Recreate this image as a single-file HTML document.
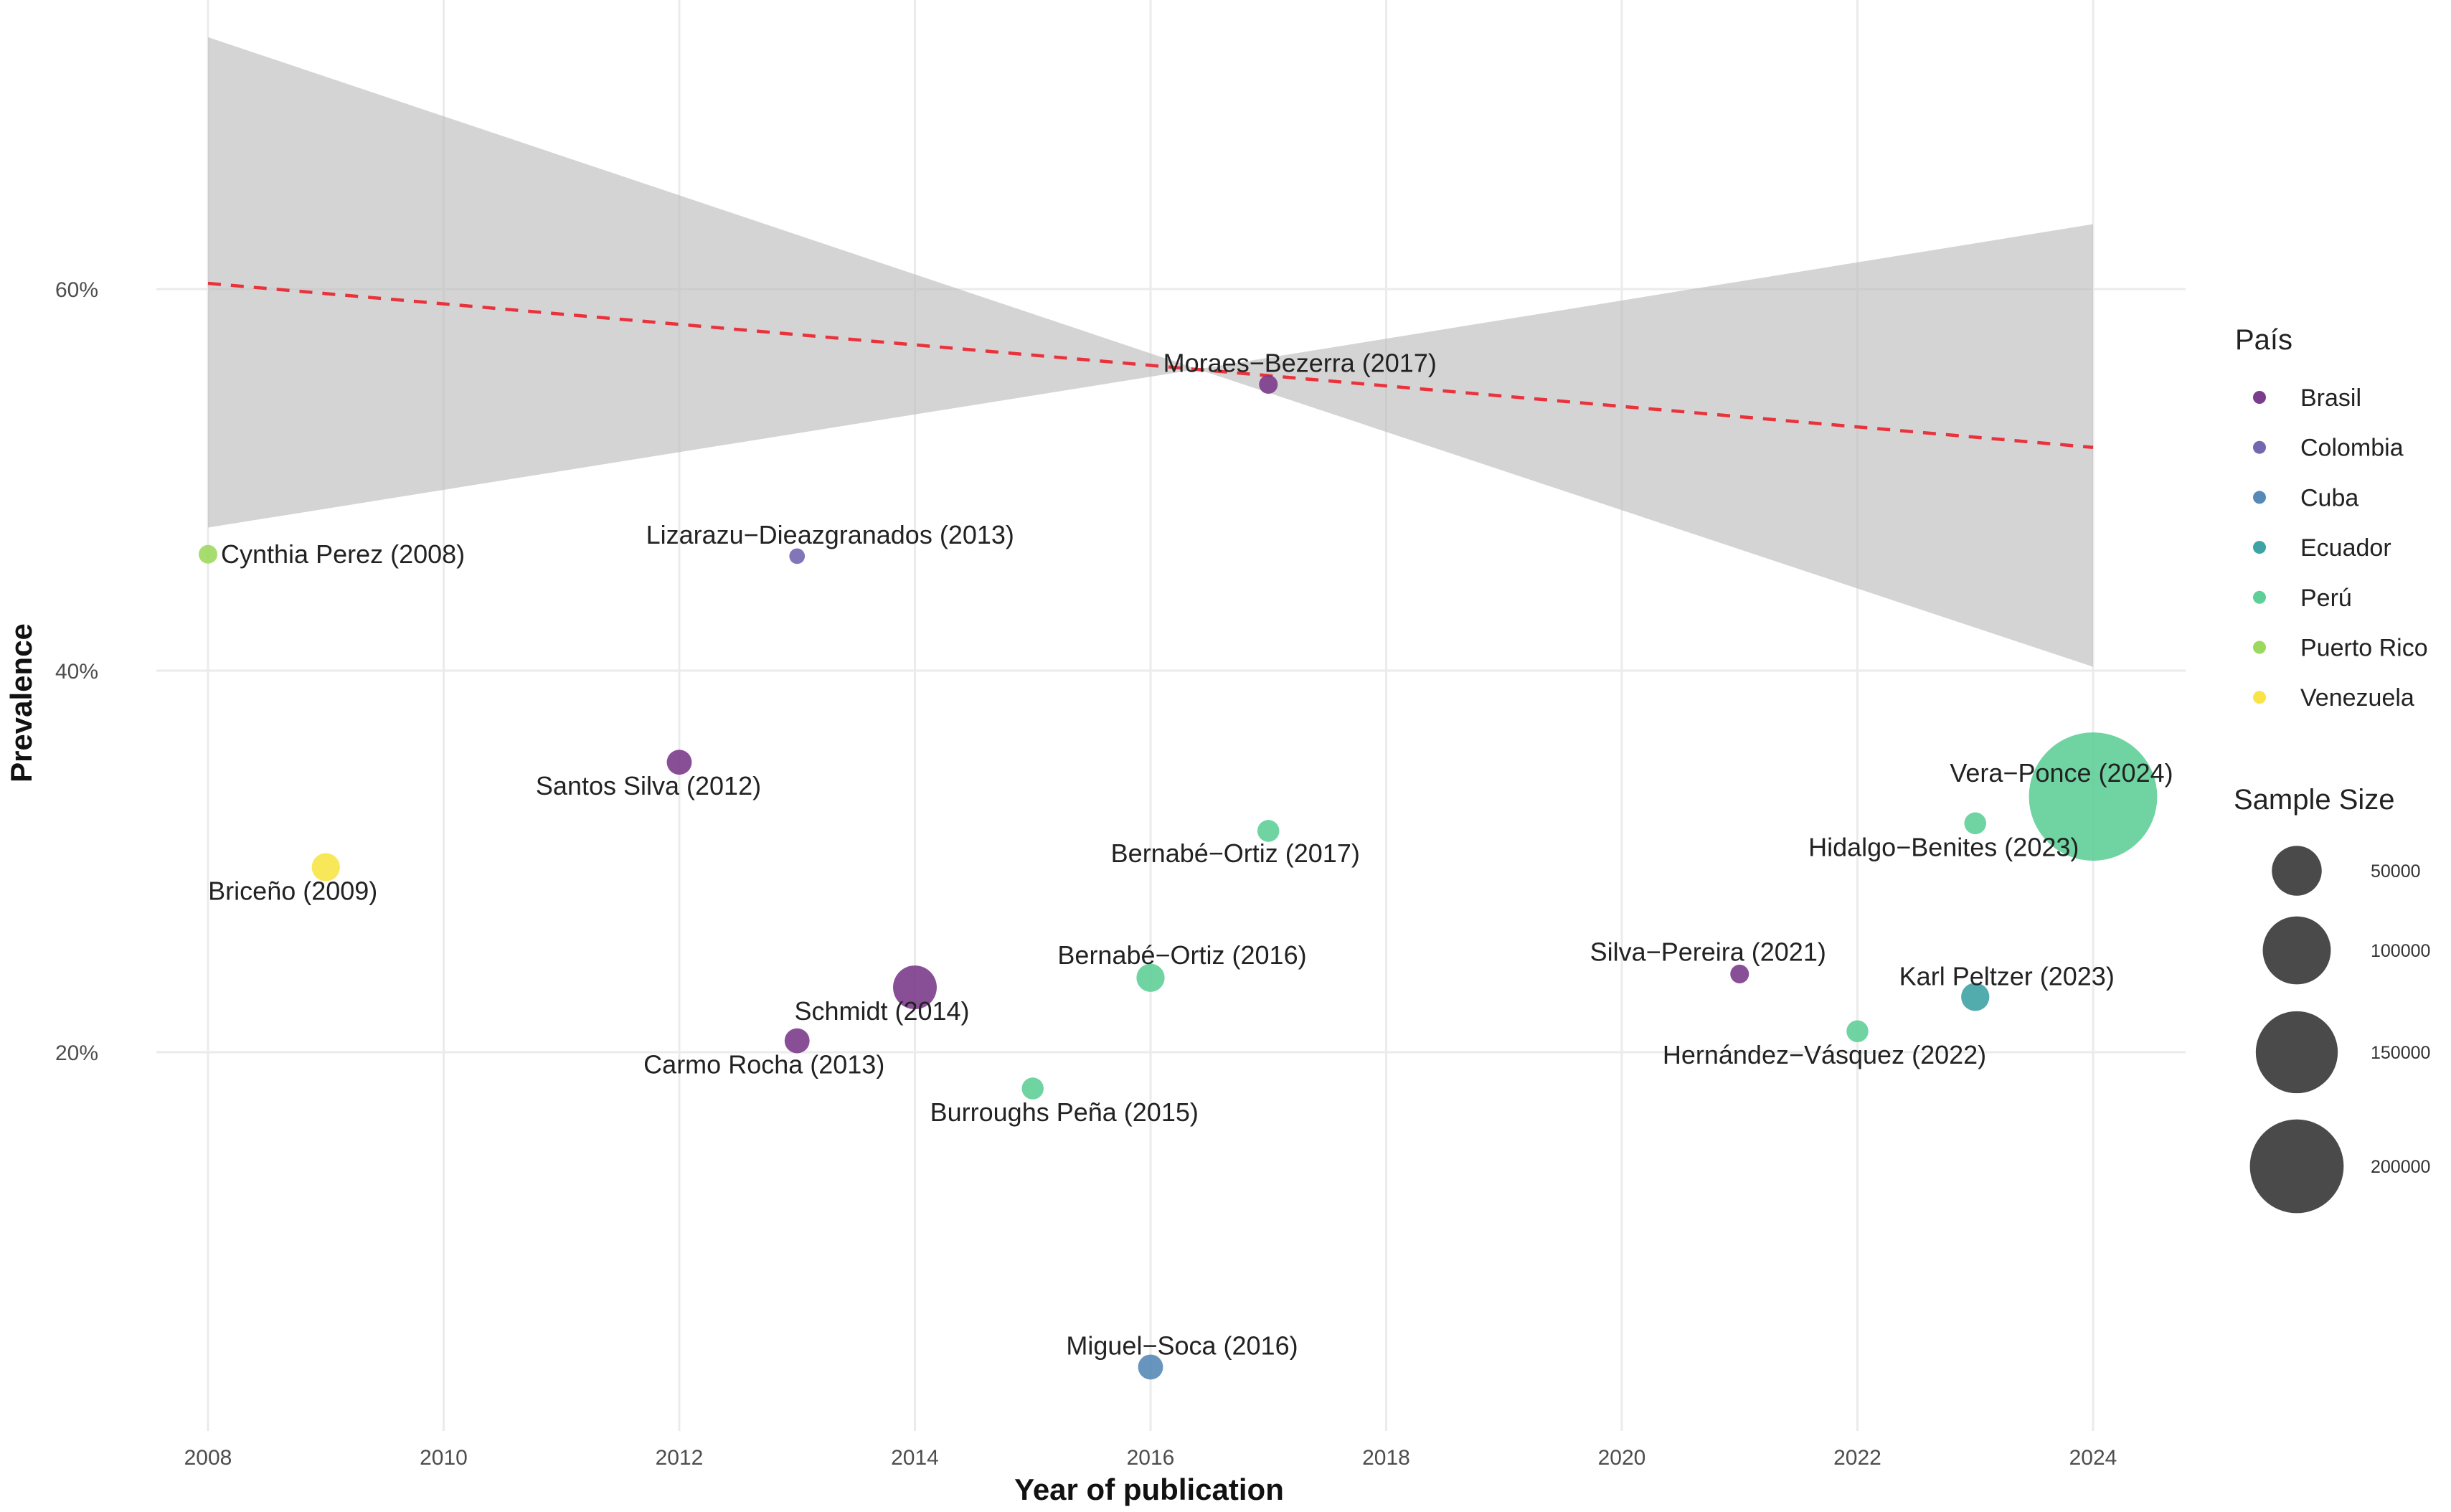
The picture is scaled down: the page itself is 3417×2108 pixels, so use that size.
<!DOCTYPE html>
<html><head><meta charset="utf-8">
<style>
html,body{margin:0;padding:0;background:#fff;}
svg{display:block;font-family:"Liberation Sans",Arial,sans-serif;}
</style></head>
<body>
<svg id="chart" width="3417" height="2108" viewBox="0 0 3417 2108" xmlns="http://www.w3.org/2000/svg">
<rect x="0" y="0" width="3417" height="2108" fill="#fff"/>
<g id="grid"></g>
<g id="ribbon"></g>
<g id="trend"></g>
<g id="points"></g>
<g id="labels"></g>
<g id="axes"></g>
<g id="legend"></g>
</svg>
<script>
// ---- data ----
const studies = ["Cynthia Perez (2008)","Briceño (2009)","Santos Silva (2012)","Lizarazu−Dieazgranados (2013)","Carmo Rocha (2013)","Schmidt (2014)","Burroughs Peña (2015)","Bernabé−Ortiz (2016)","Miguel−Soca (2016)","Moraes−Bezerra (2017)","Bernabé−Ortiz (2017)","Silva−Pereira (2021)","Hernández−Vásquez (2022)","Hidalgo−Benites (2023)","Karl Peltzer (2023)","Vera−Ponce (2024)"];
const years = [2008,2009,2012,2013,2013,2014,2015,2016,2016,2017,2017,2021,2022,2023,2023,2024];
const prevalence = [46.1,29.7,35.2,46.0,20.6,23.4,18.1,23.9,3.5,55.0,31.6,24.1,21.1,32.0,22.9,33.4];
const countries = ["Puerto Rico","Venezuela","Brasil","Colombia","Brasil","Brasil","Perú","Perú","Cuba","Brasil","Perú","Brasil","Perú","Perú","Ecuador","Perú"];
const sampleSizes = [4200,12800,9400,2400,9400,37000,6600,12800,9400,4200,6600,4200,6600,6600,12800,388000];
const countryNames = ["Brasil","Colombia","Cuba","Ecuador","Perú","Puerto Rico","Venezuela"];
const countryColors = ["#7b3c8c","#7467b0","#5689b6","#3fa2a4","#5fcf98","#9dd85e","#f8e448"];
const sizeBreaks = [50000,100000,150000,200000];
const xTicks = [2008,2010,2012,2014,2016,2018,2020,2022,2024];
const yTicks = [20,40,60];
const trendYears = [2008,2024];
const trendValues = [60.3,51.7];
const ribbonYears = [2008,2016.4,2024];
const ribbonUpper = [73.2,55.8,63.4];
const ribbonLower = [47.5,55.8,40.2];
// label offsets (layout, in px relative to point)
const labelDx = [18,-46,-43,46,-46,-46,44,44,44,44,-46,-44,-46,-44,44,-44];
const labelDy = [0,33,33,-30,33,33,33,-32,-30,-30,31,-31,33,33,-29,-33];
const labelAnchor = ["start","middle","middle","middle","middle","middle","middle","middle","middle","middle","middle","middle","middle","middle","middle","middle"];

// ---- scales ----
const X0=290, PX_PER_YEAR=(2918-290)/16;
const Y60=403, PX_PER_PCT=(1467-403)/40;
function xs(v){return X0+(v-2008)*PX_PER_YEAR;}
function ys(v){return Y60+(60-v)*PX_PER_PCT;}
function rs(n){return 2.18*(1.9+0.0628*Math.sqrt(n));}
const NS="http://www.w3.org/2000/svg";
function mk(tag,attrs,parent){const e=document.createElementNS(NS,tag);for(const k in attrs)e.setAttribute(k,attrs[k]);parent.appendChild(e);return e;}
const PL=218, PR=3047, PT=0, PB=1995;

const grid=document.getElementById('grid');
for(const t of xTicks){
  const l=mk('line',{x1:xs(t),x2:xs(t),y1:PT,y2:PB,stroke:'#ebebeb','stroke-width':3},grid);
  
  
}
for(const t of yTicks){
  const l=mk('line',{x1:PL,x2:PR,y1:ys(t),y2:ys(t),stroke:'#ebebeb','stroke-width':3},grid);
  
  
}
let pts=[];
for(let i=0;i<ribbonYears.length;i++)pts.push(xs(ribbonYears[i])+','+ys(ribbonUpper[i]));
for(let i=ribbonYears.length-1;i>=0;i--)pts.push(xs(ribbonYears[i])+','+ys(ribbonLower[i]));
const rib=mk('polygon',{points:pts.join(' '),fill:'#bdbdbd','fill-opacity':0.65},document.getElementById('ribbon'));


const tl=mk('line',{x1:xs(trendYears[0]),y1:ys(trendValues[0]),x2:xs(trendYears[1]),y2:ys(trendValues[1]),stroke:'#e8323c','stroke-width':4.5,'stroke-dasharray':'18 14'},document.getElementById('trend'));


const pg=document.getElementById('points'), lg=document.getElementById('labels');
for(let i=0;i<studies.length;i++){
  const c=countryColors[countryNames.indexOf(countries[i])];
  const cx=xs(years[i]), cy=ys(prevalence[i]);
  const p=mk('circle',{cx:cx,cy:cy,r:rs(sampleSizes[i]),fill:c,'fill-opacity':0.9},pg);
  
  
}
for(let i=0;i<studies.length;i++){
  const cx=xs(years[i]), cy=ys(prevalence[i]);
  const t=mk('text',{x:cx+labelDx[i],y:cy+labelDy[i],'font-size':36,fill:'#222','text-anchor':labelAnchor[i],'dominant-baseline':'central'},lg);
  t.textContent=studies[i];
  
  
}
const ax=document.getElementById('axes');
for(const t of xTicks){
  const e=mk('text',{x:xs(t),y:2042,'font-size':30,fill:'#4d4d4d','text-anchor':'middle'},ax);
  e.textContent=t;
  
  
}
for(const t of yTicks){
  const e=mk('text',{x:137,y:ys(t)+11,'font-size':30,fill:'#4d4d4d','text-anchor':'end'},ax);
  e.textContent=t+'%';
  
  
}
const xt=mk('text',{x:1602,y:2091,'font-size':42,'font-weight':'bold',fill:'#111','text-anchor':'middle'},ax);
xt.textContent='Year of publication';


const yt=mk('text',{x:44,y:980,'font-size':42,'font-weight':'bold',fill:'#111','text-anchor':'middle',transform:'rotate(-90 44 980)'},ax);
yt.textContent='Prevalence';


const le=document.getElementById('legend');
const lt=mk('text',{x:3116,y:487,'font-size':40,fill:'#222'},le);
lt.textContent='País';


for(let i=0;i<countryNames.length;i++){
  const y=554+i*69.7;
  const d=mk('circle',{cx:3150,cy:y,r:9,fill:countryColors[i]},le);
  
  
  const t=mk('text',{x:3207,y:y+12,'font-size':34,fill:'#222'},le);
  t.textContent=countryNames[i];
  
  
}
const st=mk('text',{x:3114,y:1128,'font-size':40,fill:'#222'},le);
st.textContent='Sample Size';


const sizeY=[1214,1325,1467,1626];
for(let i=0;i<sizeBreaks.length;i++){
  const c=mk('circle',{cx:3202,cy:sizeY[i],r:rs(sizeBreaks[i]),fill:'#4a4a4a'},le);
  
  
  const t=mk('text',{x:3305,y:sizeY[i]+9,'font-size':25,fill:'#333'},le);
  t.textContent=sizeBreaks[i];
  
  
}
</script>
</body></html>
